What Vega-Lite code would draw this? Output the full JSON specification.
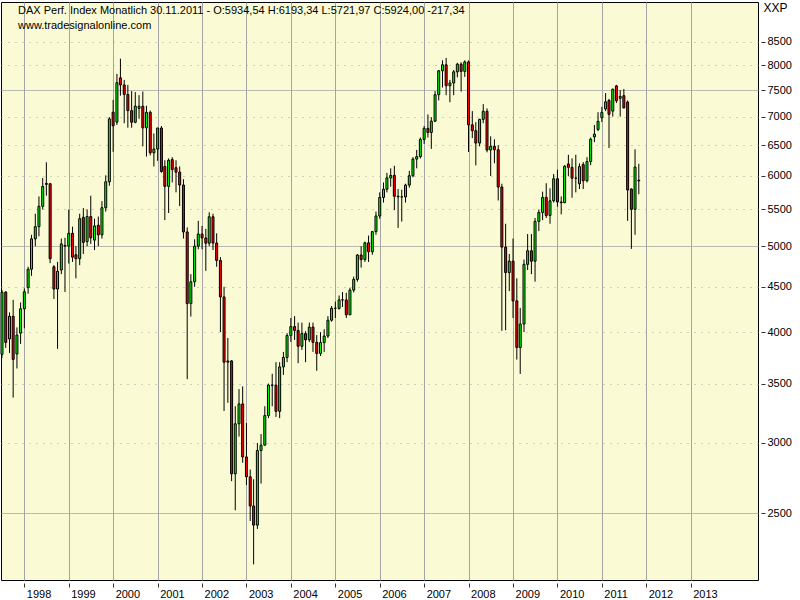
{
  "$schema": "https://vega.github.io/schema/vega-lite/v6.json",
  "width": 757,
  "height": 578,
  "autosize": "none",
  "padding": {"left": 1, "top": 2, "right": 42, "bottom": 20},
  "background": "white",
  "view": {"stroke": "black", "strokeWidth": 1, "fill": "#FAFAD4"},
  "title": {
    "text": "DAX Perf. Index Monatlich  30.11.2011 - O:5934,54 H:6193,34 L:5721,97 C:5924,00 -217,34",
    "subtitle": "www.tradesignalonline.com",
    "anchor": "start", "frame": "group", "orient": "top", "offset": -30, "dx": 17,
    "font": "Liberation Sans", "fontSize": 11, "fontWeight": "normal", "color": "black",
    "subtitleFont": "Liberation Sans", "subtitleFontSize": 11, "subtitleColor": "black", "subtitlePadding": 4
  },
  "data": {"values": [
    {"d":"1997-07-01","o":3776,"h":4464,"l":3740,"c":4438},
    {"d":"1997-08-01","o":4438,"h":4450,"l":3840,"c":3895},
    {"d":"1997-09-01","o":3930,"h":4210,"l":3790,"c":4168},
    {"d":"1997-10-01","o":4168,"h":4350,"l":3375,"c":3727},
    {"d":"1997-11-01","o":3780,"h":4050,"l":3640,"c":3970},
    {"d":"1997-12-01","o":3990,"h":4320,"l":3880,"c":4250},
    {"d":"1998-01-01","o":4250,"h":4480,"l":4040,"c":4442},
    {"d":"1998-02-01","o":4490,"h":4740,"l":4420,"c":4710},
    {"d":"1998-03-01","o":4710,"h":5150,"l":4630,"c":5096},
    {"d":"1998-04-01","o":5096,"h":5440,"l":5000,"c":5260},
    {"d":"1998-05-01","o":5260,"h":5690,"l":5130,"c":5545},
    {"d":"1998-06-01","o":5545,"h":5970,"l":5500,"c":5840},
    {"d":"1998-07-01","o":5870,"h":6217,"l":5700,"c":5885},
    {"d":"1998-08-01","o":5880,"h":5890,"l":4785,"c":4840},
    {"d":"1998-09-01","o":4740,"h":4760,"l":4360,"c":4474},
    {"d":"1998-10-01","o":4474,"h":4800,"l":3830,"c":4685},
    {"d":"1998-11-01","o":4700,"h":5100,"l":4650,"c":5030},
    {"d":"1998-12-01","o":5010,"h":5110,"l":4440,"c":5002},
    {"d":"1999-01-01","o":5000,"h":5500,"l":4780,"c":5170},
    {"d":"1999-02-01","o":5170,"h":5260,"l":4800,"c":4860},
    {"d":"1999-03-01","o":4890,"h":5000,"l":4600,"c":4840},
    {"d":"1999-04-01","o":4840,"h":5440,"l":4760,"c":5370},
    {"d":"1999-05-01","o":5390,"h":5520,"l":4900,"c":5050},
    {"d":"1999-06-01","o":5060,"h":5500,"l":5000,"c":5400},
    {"d":"1999-07-01","o":5400,"h":5700,"l":5030,"c":5110},
    {"d":"1999-08-01","o":5080,"h":5370,"l":4950,"c":5270},
    {"d":"1999-09-01","o":5280,"h":5400,"l":5000,"c":5150},
    {"d":"1999-10-01","o":5150,"h":5620,"l":5100,"c":5525},
    {"d":"1999-11-01","o":5525,"h":6010,"l":5470,"c":5910},
    {"d":"1999-12-01","o":5910,"h":6990,"l":5850,"c":6958},
    {"d":"2000-01-01","o":7080,"h":7310,"l":6388,"c":6835},
    {"d":"2000-02-01","o":6900,"h":7820,"l":6850,"c":7644},
    {"d":"2000-03-01","o":7740,"h":8136,"l":7390,"c":7599},
    {"d":"2000-04-01","o":7599,"h":7700,"l":6880,"c":7414},
    {"d":"2000-05-01","o":7414,"h":7600,"l":6800,"c":7109},
    {"d":"2000-06-01","o":7109,"h":7480,"l":6800,"c":6898},
    {"d":"2000-07-01","o":6898,"h":7460,"l":6880,"c":7192},
    {"d":"2000-08-01","o":7150,"h":7400,"l":6960,"c":7190},
    {"d":"2000-09-01","o":7190,"h":7470,"l":6480,"c":6798},
    {"d":"2000-10-01","o":6798,"h":7200,"l":6310,"c":7077},
    {"d":"2000-11-01","o":7077,"h":7110,"l":6330,"c":6372},
    {"d":"2000-12-01","o":6372,"h":6700,"l":6150,"c":6434},
    {"d":"2001-01-01","o":6434,"h":6800,"l":6240,"c":6795},
    {"d":"2001-02-01","o":6795,"h":6830,"l":6050,"c":6070},
    {"d":"2001-03-01","o":6150,"h":6250,"l":5350,"c":5840},
    {"d":"2001-04-01","o":5840,"h":6280,"l":5450,"c":6250},
    {"d":"2001-05-01","o":6260,"h":6300,"l":5900,"c":6100},
    {"d":"2001-06-01","o":6130,"h":6250,"l":5750,"c":6060},
    {"d":"2001-07-01","o":6060,"h":6150,"l":5550,"c":5861},
    {"d":"2001-08-01","o":5861,"h":5950,"l":5100,"c":5188},
    {"d":"2001-09-01","o":5188,"h":5250,"l":3540,"c":4308},
    {"d":"2001-10-01","o":4308,"h":4650,"l":4165,"c":4559},
    {"d":"2001-11-01","o":4559,"h":5090,"l":4500,"c":5000},
    {"d":"2001-12-01","o":5000,"h":5340,"l":4960,"c":5160},
    {"d":"2002-01-01","o":5160,"h":5270,"l":4960,"c":5108},
    {"d":"2002-02-01","o":5108,"h":5230,"l":4690,"c":5039},
    {"d":"2002-03-01","o":5039,"h":5460,"l":5000,"c":5397},
    {"d":"2002-04-01","o":5397,"h":5440,"l":4950,"c":5041},
    {"d":"2002-05-01","o":5041,"h":5170,"l":4740,"c":4818},
    {"d":"2002-06-01","o":4818,"h":4860,"l":4000,"c":4383},
    {"d":"2002-07-01","o":4383,"h":4500,"l":3260,"c":3700},
    {"d":"2002-08-01","o":3700,"h":3940,"l":3330,"c":3712},
    {"d":"2002-09-01","o":3712,"h":3720,"l":2717,"c":2769},
    {"d":"2002-10-01","o":2769,"h":3300,"l":2519,"c":3153},
    {"d":"2002-11-01","o":3153,"h":3450,"l":3050,"c":3320},
    {"d":"2002-12-01","o":3320,"h":3475,"l":2850,"c":2893},
    {"d":"2003-01-01","o":2893,"h":3160,"l":2690,"c":2748},
    {"d":"2003-02-01","o":2748,"h":2800,"l":2450,"c":2547},
    {"d":"2003-03-01","o":2547,"h":2730,"l":2189,"c":2424},
    {"d":"2003-04-01","o":2424,"h":3000,"l":2400,"c":2942},
    {"d":"2003-05-01","o":2942,"h":3070,"l":2700,"c":2983},
    {"d":"2003-06-01","o":2983,"h":3300,"l":2980,"c":3221},
    {"d":"2003-07-01","o":3221,"h":3500,"l":3200,"c":3487},
    {"d":"2003-08-01","o":3487,"h":3590,"l":3300,"c":3485},
    {"d":"2003-09-01","o":3485,"h":3700,"l":3210,"c":3257},
    {"d":"2003-10-01","o":3257,"h":3700,"l":3200,"c":3655},
    {"d":"2003-11-01","o":3655,"h":3800,"l":3580,"c":3746},
    {"d":"2003-12-01","o":3746,"h":3990,"l":3700,"c":3965},
    {"d":"2004-01-01","o":3965,"h":4150,"l":3900,"c":4058},
    {"d":"2004-02-01","o":4058,"h":4170,"l":3920,"c":4018},
    {"d":"2004-03-01","o":4018,"h":4100,"l":3690,"c":3856},
    {"d":"2004-04-01","o":3856,"h":4100,"l":3820,"c":3985},
    {"d":"2004-05-01","o":3985,"h":4010,"l":3700,"c":3921},
    {"d":"2004-06-01","o":3921,"h":4100,"l":3900,"c":4053},
    {"d":"2004-07-01","o":4053,"h":4100,"l":3800,"c":3895},
    {"d":"2004-08-01","o":3895,"h":3970,"l":3618,"c":3785},
    {"d":"2004-09-01","o":3785,"h":4000,"l":3760,"c":3893},
    {"d":"2004-10-01","o":3893,"h":4030,"l":3800,"c":3960},
    {"d":"2004-11-01","o":3960,"h":4170,"l":3940,"c":4126},
    {"d":"2004-12-01","o":4126,"h":4280,"l":4110,"c":4256},
    {"d":"2005-01-01","o":4256,"h":4330,"l":4150,"c":4255},
    {"d":"2005-02-01","o":4255,"h":4400,"l":4240,"c":4350},
    {"d":"2005-03-01","o":4350,"h":4440,"l":4270,"c":4349},
    {"d":"2005-04-01","o":4349,"h":4430,"l":4150,"c":4185},
    {"d":"2005-05-01","o":4185,"h":4490,"l":4180,"c":4461},
    {"d":"2005-06-01","o":4461,"h":4620,"l":4434,"c":4587},
    {"d":"2005-07-01","o":4587,"h":4900,"l":4560,"c":4887},
    {"d":"2005-08-01","o":4887,"h":5000,"l":4730,"c":4829},
    {"d":"2005-09-01","o":4829,"h":5060,"l":4800,"c":5044},
    {"d":"2005-10-01","o":5044,"h":5140,"l":4800,"c":4929},
    {"d":"2005-11-01","o":4929,"h":5200,"l":4890,"c":5193},
    {"d":"2005-12-01","o":5193,"h":5470,"l":5150,"c":5408},
    {"d":"2006-01-01","o":5408,"h":5750,"l":5370,"c":5674},
    {"d":"2006-02-01","o":5674,"h":5900,"l":5600,"c":5797},
    {"d":"2006-03-01","o":5797,"h":6050,"l":5750,"c":5970},
    {"d":"2006-04-01","o":5970,"h":6120,"l":5835,"c":6009},
    {"d":"2006-05-01","o":6009,"h":6160,"l":5490,"c":5692},
    {"d":"2006-06-01","o":5692,"h":5800,"l":5243,"c":5683},
    {"d":"2006-07-01","o":5683,"h":5790,"l":5330,"c":5682},
    {"d":"2006-08-01","o":5682,"h":5880,"l":5600,"c":5860},
    {"d":"2006-09-01","o":5860,"h":6080,"l":5820,"c":6004},
    {"d":"2006-10-01","o":6004,"h":6300,"l":5980,"c":6269},
    {"d":"2006-11-01","o":6269,"h":6420,"l":6120,"c":6309},
    {"d":"2006-12-01","o":6309,"h":6630,"l":6280,"c":6597},
    {"d":"2007-01-01","o":6597,"h":6830,"l":6520,"c":6789},
    {"d":"2007-02-01","o":6789,"h":7040,"l":6630,"c":6716},
    {"d":"2007-03-01","o":6716,"h":6990,"l":6437,"c":6917},
    {"d":"2007-04-01","o":6917,"h":7480,"l":6900,"c":7409},
    {"d":"2007-05-01","o":7409,"h":7900,"l":7300,"c":7884},
    {"d":"2007-06-01","o":7884,"h":8100,"l":7550,"c":8007},
    {"d":"2007-07-01","o":8007,"h":8152,"l":7400,"c":7584},
    {"d":"2007-08-01","o":7584,"h":7700,"l":7265,"c":7638},
    {"d":"2007-09-01","o":7638,"h":7900,"l":7400,"c":7862},
    {"d":"2007-10-01","o":7862,"h":8050,"l":7750,"c":8020},
    {"d":"2007-11-01","o":8020,"h":8060,"l":7470,"c":7871},
    {"d":"2007-12-01","o":7871,"h":8100,"l":7760,"c":8067},
    {"d":"2008-01-01","o":8067,"h":8100,"l":6384,"c":6852},
    {"d":"2008-02-01","o":6852,"h":7100,"l":6620,"c":6748},
    {"d":"2008-03-01","o":6748,"h":6900,"l":6167,"c":6535},
    {"d":"2008-04-01","o":6535,"h":6960,"l":6480,"c":6949},
    {"d":"2008-05-01","o":6949,"h":7230,"l":6880,"c":7097},
    {"d":"2008-06-01","o":7097,"h":7150,"l":6380,"c":6418},
    {"d":"2008-07-01","o":6418,"h":6650,"l":6000,"c":6480},
    {"d":"2008-08-01","o":6480,"h":6600,"l":6200,"c":6422},
    {"d":"2008-09-01","o":6422,"h":6500,"l":5630,"c":5831},
    {"d":"2008-10-01","o":5831,"h":5880,"l":4014,"c":4988},
    {"d":"2008-11-01","o":4988,"h":5300,"l":4020,"c":4669},
    {"d":"2008-12-01","o":4669,"h":4900,"l":4450,"c":4810},
    {"d":"2009-01-01","o":4810,"h":5100,"l":4150,"c":4338},
    {"d":"2009-02-01","o":4338,"h":4600,"l":3725,"c":3844},
    {"d":"2009-03-01","o":3844,"h":4260,"l":3589,"c":4085},
    {"d":"2009-04-01","o":4085,"h":4830,"l":4000,"c":4770},
    {"d":"2009-05-01","o":4770,"h":5160,"l":4700,"c":4941},
    {"d":"2009-06-01","o":4941,"h":5160,"l":4650,"c":4809},
    {"d":"2009-07-01","o":4809,"h":5380,"l":4560,"c":5332},
    {"d":"2009-08-01","o":5332,"h":5500,"l":5200,"c":5458},
    {"d":"2009-09-01","o":5458,"h":5760,"l":5350,"c":5675},
    {"d":"2009-10-01","o":5675,"h":5888,"l":5380,"c":5415},
    {"d":"2009-11-01","o":5415,"h":5810,"l":5300,"c":5625},
    {"d":"2009-12-01","o":5625,"h":6030,"l":5600,"c":5957},
    {"d":"2010-01-01","o":5957,"h":6100,"l":5540,"c":5608},
    {"d":"2010-02-01","o":5608,"h":5690,"l":5430,"c":5598},
    {"d":"2010-03-01","o":5598,"h":6170,"l":5590,"c":6154},
    {"d":"2010-04-01","o":6190,"h":6340,"l":6000,"c":6136},
    {"d":"2010-05-01","o":6136,"h":6280,"l":5670,"c":5965},
    {"d":"2010-06-01","o":5965,"h":6340,"l":5750,"c":5966},
    {"d":"2010-07-01","o":5880,"h":6200,"l":5800,"c":6148},
    {"d":"2010-08-01","o":6180,"h":6220,"l":5800,"c":5925},
    {"d":"2010-09-01","o":5925,"h":6300,"l":5900,"c":6229},
    {"d":"2010-10-01","o":6229,"h":6630,"l":6170,"c":6601},
    {"d":"2010-11-01","o":6640,"h":6850,"l":6550,"c":6688},
    {"d":"2010-12-01","o":6770,"h":7080,"l":6740,"c":6914},
    {"d":"2011-01-01","o":6980,"h":7180,"l":6900,"c":7077},
    {"d":"2011-02-01","o":7140,"h":7440,"l":7100,"c":7273},
    {"d":"2011-03-01","o":7300,"h":7330,"l":6452,"c":7041},
    {"d":"2011-04-01","o":7100,"h":7530,"l":7000,"c":7514},
    {"d":"2011-05-01","o":7580,"h":7600,"l":7250,"c":7294},
    {"d":"2011-06-01","o":7340,"h":7500,"l":7000,"c":7376},
    {"d":"2011-07-01","o":7390,"h":7520,"l":7150,"c":7159},
    {"d":"2011-08-01","o":7270,"h":7300,"l":5340,"c":5785},
    {"d":"2011-09-01","o":5800,"h":5810,"l":4965,"c":5502},
    {"d":"2011-10-01","o":5502,"h":6430,"l":5150,"c":6141},
    {"d":"2011-11-01","o":5934.54,"h":6193.34,"l":5721.97,"c":5924}
  ]},
  "encoding": {
    "x": {
      "field": "d", "type": "temporal",
      "scale": {"type": "utc", "padding": 0, "domain": [{"year":1997,"month":6,"date":23,"utc":true},{"year":2014,"month":7,"date":8,"utc":true}]},
      "axis": {
        "orient": "bottom", "title": null, "format": "%Y",
        "values": [{"year":1998,"utc":true},{"year":1999,"utc":true},{"year":2000,"utc":true},{"year":2001,"utc":true},{"year":2002,"utc":true},{"year":2003,"utc":true},{"year":2004,"utc":true},{"year":2005,"utc":true},{"year":2006,"utc":true},{"year":2007,"utc":true},{"year":2008,"utc":true},{"year":2009,"utc":true},{"year":2010,"utc":true},{"year":2011,"utc":true},{"year":2012,"utc":true},{"year":2013,"utc":true}],
        "grid": true, "gridColor": "#a4a4a4", "gridWidth": 1,
        "domain": false, "ticks": true, "tickSize": 4, "tickColor": "#333333", "offset": 3,
        "labelAlign": "left", "labelOffset": 2, "labelPadding": 1,
        "labelFont": "Liberation Sans", "labelFontSize": 11, "labelColor": "black"
      }
    }
  },
  "layer": [
    {
      "mark": {"type": "rule", "color": "black", "strokeWidth": 1},
      "encoding": {
        "y": {
          "field": "l", "type": "quantitative",
          "scale": {"type": "log", "domain": [2102, 9425], "nice": false, "zero": false, "padding": 0},
          "axis": {
            "orient": "right", "title": "XXP",
            "values": [2500,3000,3500,4000,4500,5000,5500,6000,6500,7000,7500,8000,8500],
            "format": "d", "grid": true, "gridColor": "#a4a4a4", "gridWidth": 1,
            "gridDash": {"condition": {"test": "datum.value % 2500 === 0", "value": [1, 0]}, "value": [1, 6]},
            "domain": false, "ticks": true, "tickSize": 4, "tickColor": "#333333", "offset": 3,
            "labelPadding": 2, "labelFont": "Liberation Sans", "labelFontSize": 11, "labelColor": "black",
            "titleAngle": 0, "titleAlign": "left", "titleBaseline": "alphabetic", "titleX": 2, "titleY": 9,
            "titleFont": "Liberation Sans", "titleFontSize": 12, "titleFontWeight": "normal", "titleColor": "black"
          }
        },
        "y2": {"field": "h"}
      }
    },
    {
      "mark": {"type": "bar", "size": 2, "stroke": "black", "strokeWidth": 1},
      "encoding": {
        "y": {
          "field": "o", "type": "quantitative",
          "scale": {"type": "log", "domain": [2102, 9425], "nice": false, "zero": false, "padding": 0},
          "axis": {
            "orient": "right", "title": "XXP",
            "values": [2500,3000,3500,4000,4500,5000,5500,6000,6500,7000,7500,8000,8500],
            "format": "d", "grid": true, "gridColor": "#a4a4a4", "gridWidth": 1,
            "gridDash": {"condition": {"test": "datum.value % 2500 === 0", "value": [1, 0]}, "value": [1, 6]},
            "domain": false, "ticks": true, "tickSize": 4, "tickColor": "#333333", "offset": 3,
            "labelPadding": 2, "labelFont": "Liberation Sans", "labelFontSize": 11, "labelColor": "black",
            "titleAngle": 0, "titleAlign": "left", "titleBaseline": "alphabetic", "titleX": 2, "titleY": 9,
            "titleFont": "Liberation Sans", "titleFontSize": 12, "titleFontWeight": "normal", "titleColor": "black"
          }
        },
        "y2": {"field": "c"},
        "fill": {"condition": {"test": "datum.c >= datum.o", "value": "#00ff00"}, "value": "#ff0000"}
      }
    }
  ]
}
